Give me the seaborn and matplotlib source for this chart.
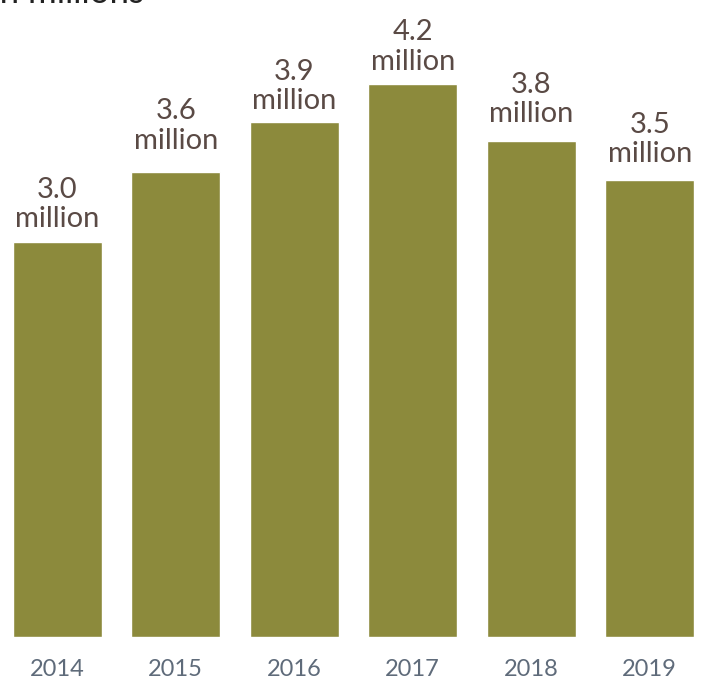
import matplotlib
matplotlib.use("Agg")
import matplotlib.pyplot as plt
import seaborn as sns
import pandas as pd

years = ["2014", "2015", "2016", "2017", "2018", "2019"]
values = [3.0, 3.53, 3.91, 4.2, 3.77, 3.47]
label_values = [3.0, 3.6, 3.9, 4.2, 3.8, 3.5]
labels = ["3.0\nmillion", "3.6\nmillion", "3.9\nmillion", "4.2\nmillion", "3.8\nmillion", "3.5\nmillion"]

sns.set_theme(style="white")
plt.rcParams['font.family'] = ['Lato', 'DejaVu Sans']

df = pd.DataFrame({"year": years, "value": values})

PX = 131.6
fig = plt.figure(figsize=(7.04, 6.79), dpi=100)
ax = fig.add_axes([-2/704, 42/679, 711/704, 4.8*PX/679])
sns.barplot(data=df, x="year", y="value", color="#8C8A3C", saturation=1, width=0.75, ax=ax)
ax.set_xlim(-0.5, 5.5)
ax.set_ylim(0, 4.8)
for i, (v, lab) in enumerate(zip(label_values, labels)):
    ax.annotate(lab, (i, v), xytext=(0, 7), textcoords="offset points",
                ha="center", va="bottom", fontsize=21,
                color="#5a4a45", linespacing=1.15)
ax.set_xlabel("")
ax.set_ylabel("")
ax.set_yticks([])
ax.tick_params(axis="x", length=0, pad=16, labelsize=17, labelcolor="#5f6b7a")
for s in ax.spines.values():
    s.set_visible(False)
fig.text(-0.014, 1 - 3/679, "In millions", fontsize=25,
         color="#222222", ha="left", va="baseline")
fig.savefig("out.png", dpi=100)
